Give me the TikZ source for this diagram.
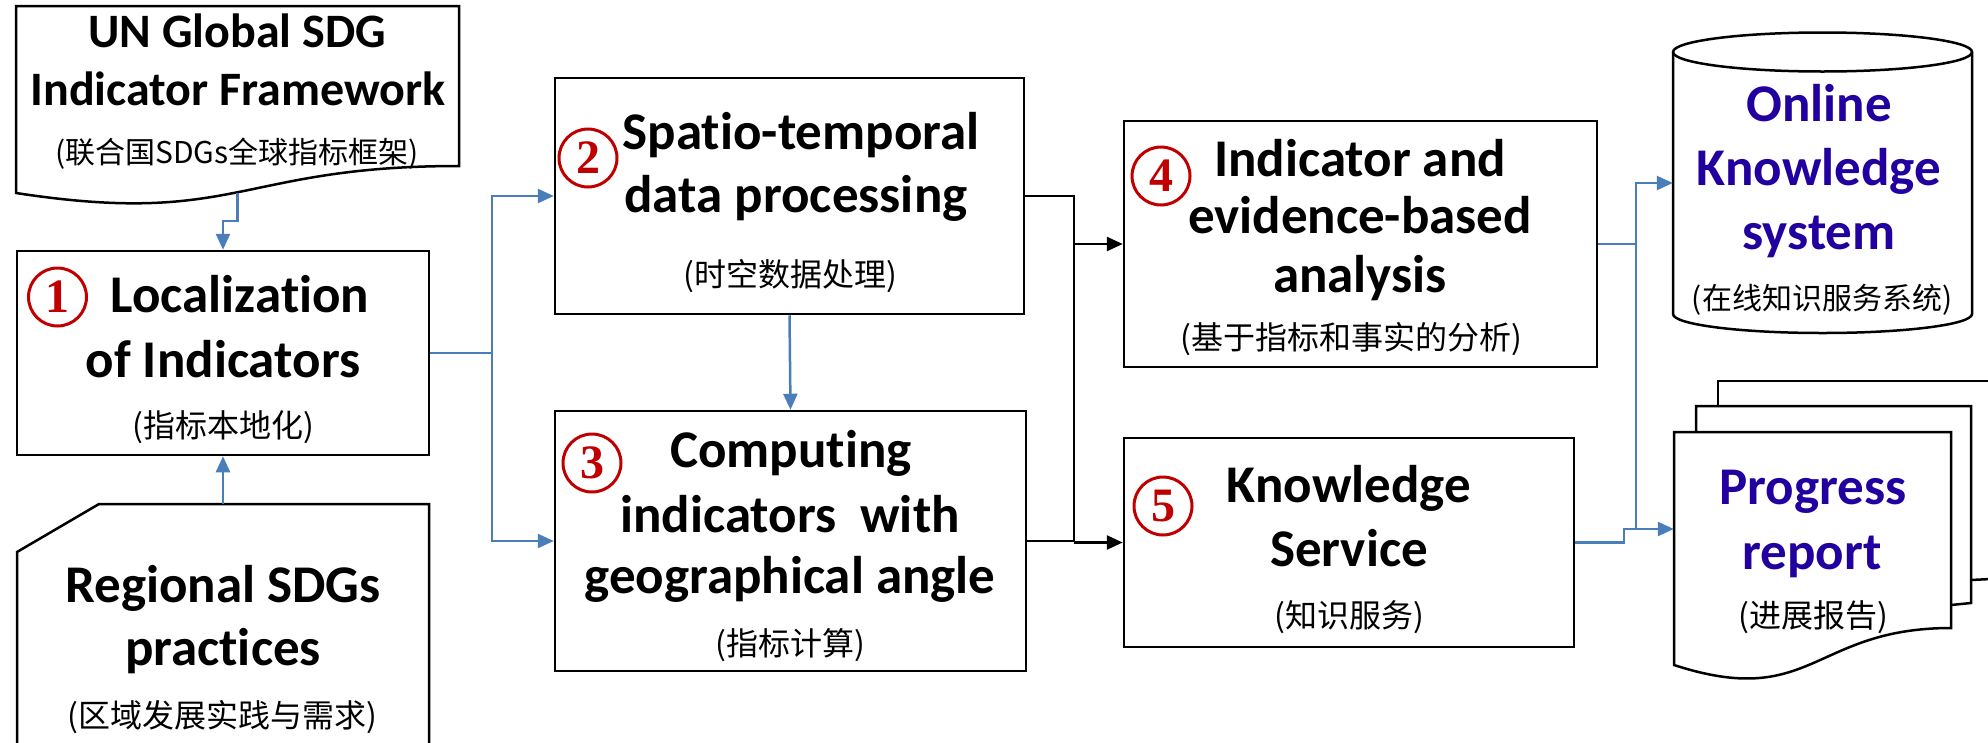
\documentclass[tikz,border=0pt]{standalone}
\usepackage{fontspec}
\setmainfont{Carlito}[Ligatures=NoCommon]
\newfontfamily\cjk{Noto Sans CJK SC}
\newfontfamily\numfont{Liberation Serif}
\usetikzlibrary{arrows.meta,calc}
\definecolor{flowblue}{RGB}{74,126,187}
\definecolor{deepblue}{RGB}{34,0,160}
\definecolor{markred}{RGB}{192,0,0}

\begin{document}
\begin{tikzpicture}[x=1pt,y=-1pt,
  box/.style={draw, line width=2.5pt, inner sep=0pt, fill=white},
  area/.style={inner sep=0pt},
  outline/.style={draw, line width=2.5pt, fill=white, line join=miter},
  en/.style={anchor=base, inner sep=0pt, font=\bfseries\fontsize{53}{63}\selectfont},
  ensmall/.style={anchor=base, inner sep=0pt, font=\bfseries\fontsize{48}{57}\selectfont},
  zh/.style={anchor=base, inner sep=0pt, font=\cjk\fontsize{32}{38}\selectfont},
  zhsmall/.style={anchor=base, inner sep=0pt, font=\cjk\fontsize{30}{36}\selectfont},
  num/.style={circle, draw=markred, line width=3pt, text=markred, minimum size=58pt,
              inner sep=0pt, font=\numfont\bfseries\fontsize{48}{48}\selectfont},
  bline/.style={draw=flowblue, line width=2.5pt},
  kline/.style={draw=black, line width=2.5pt},
  barr/.style={-{Triangle[length=16pt,width=14pt]}},
]
\useasboundingbox (0,0) rectangle (1988,742);
\fill[white] (0,0) rectangle (1988,742);

% ---------- left column ----------
% global framework (document shape)
\node[area, minimum width=443pt, minimum height=187pt] (un) at (237.5,99.5) {};
\draw[outline] (16,6) -- (459,6) -- (459,166)
  .. controls (237.5,166) and (237.5,227) .. (16,193) -- cycle;
\node[ensmall] (unA) at (237,47) {UN Global SDG};
\node[ensmall] (unB) at (238,105) {Indicator Framework};
\node[zhsmall] (unC) at (237,163) {(联合国SDGs全球指标框架)};

% step 1
\node[box, minimum width=412pt, minimum height=204pt] (b1) at (223,353) {};
\node[num] (n1) at (57.5,297) {1};
\node[en] (b1A) at (240,312) {Localization};
\node[en] (b1B) at (223,377) {of Indicators};
\node[zh] (b1C) at (223,437) {(指标本地化)};

% regional practices (card shape)
\node[area, minimum width=412pt, minimum height=266pt] (reg) at (223,637) {};
\draw[outline] (17,552) -- (99,504) -- (429,504) -- (429,770) -- (17,770) -- cycle;
\node[en] (regA) at (223,602) {Regional SDGs};
\node[en] (regB) at (223,665) {practices};
\node[zh] (regC) at (222,727) {(区域发展实践与需求)};

% ---------- middle column ----------
\node[box, minimum width=469pt, minimum height=236pt] (b2) at (789.5,196) {};
\node[num] (n2) at (588,158) {2};
\node[en] (b2A) at (801,149) {Spatio-temporal};
\node[en] (b2B) at (796,212) {data processing};
\node[zh] (b2C) at (790,286) {(时空数据处理)};

\node[box, minimum width=471pt, minimum height=260pt] (b3) at (790.5,541) {};
\node[num] (n3) at (592,463) {3};
\node[en] (b3A) at (791,467) {Computing};
\node[en] (b3B) at (790,532) {indicators\ \ with};
\node[en] (b3C) at (790,593) {geographical angle};
\node[zh] (b3D) at (790,655) {(指标计算)};

% ---------- analysis column ----------
\node[box, minimum width=473pt, minimum height=246pt] (b4) at (1360.5,244) {};
\node[num] (n4) at (1161,176) {4};
\node[en] (b4A) at (1360,176) {Indicator and};
\node[en] (b4B) at (1360,233) {evidence-based};
\node[en] (b4C) at (1360,292) {analysis};
\node[zh] (b4D) at (1351,349) {(基于指标和事实的分析)};

\node[box, minimum width=450pt, minimum height=209pt] (b5) at (1349,542.5) {};
\node[num] (n5) at (1163,506) {5};
\node[en] (b5A) at (1349,502) {Knowledge};
\node[en] (b5B) at (1349,566) {Service};
\node[zh] (b5C) at (1349,627) {(知识服务)};

% ---------- outputs ----------
% online knowledge system (cylinder)
\node[area, minimum width=299pt, minimum height=300pt] (oks) at (1822.5,183) {};
\draw[outline] (1673,52) -- (1673,314)
  .. controls (1673,324.5) and (1739.9,333) .. (1822.5,333)
  .. controls (1905.1,333) and (1972,324.5) .. (1972,314) -- (1972,52)
  .. controls (1972,41.2) and (1905.1,32.5) .. (1822.5,32.5)
  .. controls (1739.9,32.5) and (1673,41.2) .. (1673,52) -- cycle;
\draw[line width=2.5pt] (1673,52) .. controls (1673,62.8) and (1739.9,71.5) .. (1822.5,71.5)
  .. controls (1905.1,71.5) and (1972,62.8) .. (1972,52);
\node[en, text=deepblue] (oksA) at (1819,121) {Online};
\node[en, text=deepblue] (oksB) at (1819,185) {Knowledge};
\node[en, text=deepblue] (oksC) at (1819,249) {system};
\node[zhsmall] (oksD) at (1822,309) {(在线知识服务系统)};

% progress report (stacked documents)
\fill[white] (1718,381) rectangle (2010,578);
\draw[line width=2.5pt] (1718,406) -- (1718,381) -- (2010,381);
\draw[line width=2.5pt] (1971,580) -- (2010,578);
\fill[white] (1696,406) rectangle (1971,603);
\draw[line width=2.5pt] (1696,432) -- (1696,406) -- (1971,406) -- (1971,603) -- (1951,605);
\node[area, minimum width=277pt, minimum height=194pt] (pr) at (1812.5,529) {};
\draw[outline] (1674,432) -- (1951,432) -- (1951,628)
  .. controls (1812.5,628) and (1812.5,710) .. (1674,665) -- cycle;
\node[en, text=deepblue] (prA) at (1813,504) {Progress};
\node[en, text=deepblue] (prB) at (1812,569) {report};
\node[zh] (prC) at (1813,627) {(进展报告)};

% ---------- connectors ----------
\draw[bline, barr] (un.south) -- ++(0,28) -| (b1.north);
\draw[bline, barr] (reg.north) -- (b1.south);

\coordinate (j1) at (492,353);
\draw[bline] (b1.east) -- (j1);
\draw[bline, barr] (j1) |- (b2.west);
\draw[bline, barr] (j1) |- (b3.west);
\draw[bline, barr] (b2.south) -- (b3.north);

\coordinate (j2) at (1074,0);
\draw[kline] (b2.east) -| (j2 |- b3.east) -- (b3.east);
\draw[kline, barr] (j2 |- b4.west) -- (b4.west);
\draw[kline, barr] (j2 |- b5.west) -- (b5.west);

\coordinate (j3) at (1636,0);
\coordinate (j4) at (1624,0);
\draw[bline, barr] (b4.east) -| (j3 |- oks.west) -- (oks.west);
\draw[bline, barr] (b4.east -| j3) -- (j3 |- pr.west) -- (pr.west);
\draw[bline] (b5.east) -- (j4 |- b5.east) -- (j4 |- pr.west) -- (j3 |- pr.west);
\end{tikzpicture}
\end{document}
